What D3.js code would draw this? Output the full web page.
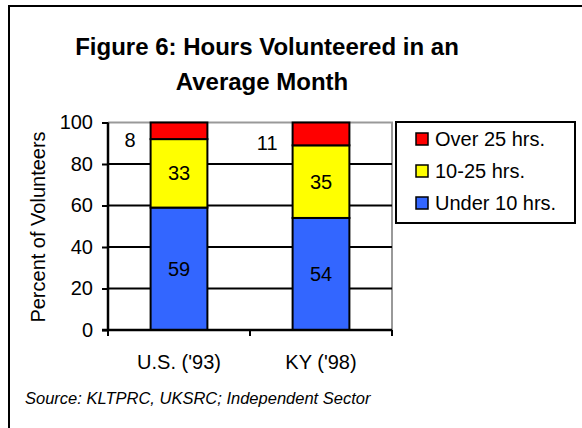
<!DOCTYPE html>
<html>
<head>
<meta charset="utf-8">
<script src="https://cdn.jsdelivr.net/npm/d3@7"></script>
<style>
  body { margin: 0; background: #fff; }
  text { font-family: Arial, "Liberation Sans", sans-serif; }
</style>
</head>
<body>
<script>
// data
var categories = ["U.S. ('93)", "KY ('98)"];
var seriesNames = ["Under 10 hrs.", "10-25 hrs.", "Over 25 hrs."];
var under10 = [59, 54];
var mid10to25 = [33, 35];
var over25 = [8, 11];
var yTicks = [0, 20, 40, 60, 80, 100];
var colors = ["#3366ff", "#ffff00", "#ff0000"];

var width = 582;
var height = 428;

var rows = categories.map(function(c, i){
  return { cat: c, "Under 10 hrs.": under10[i], "10-25 hrs.": mid10to25[i], "Over 25 hrs.": over25[i] };
});

var svg = d3.select("body")
            .append("svg")
            .attr("width", width)
            .attr("height", height);

// outer frame (runs off the right / bottom edge like the original)
svg.append("rect")
   .attr("x", 9).attr("y", 6)
   .attr("width", 600).attr("height", 450)
   .attr("fill", "none")
   .attr("stroke", "#000")
   .attr("stroke-width", 2);

// title
svg.append("text")
   .attr("x", 267).attr("y", 55)
   .attr("text-anchor", "middle")
   .attr("font-size", 24).attr("font-weight", "bold")
   .text("Figure 6: Hours Volunteered in an");
svg.append("text")
   .attr("x", 262).attr("y", 90)
   .attr("text-anchor", "middle")
   .attr("font-size", 24).attr("font-weight", "bold")
   .text("Average Month");

var plotL = 108, plotR = 392, plotT = 122.5, plotB = 330;

var xScale = d3.scaleBand()
               .domain(categories)
               .range([plotL, plotR])
               .paddingInner(0.6)
               .paddingOuter(0.3);

var yScale = d3.scaleLinear()
               .domain([0, 100])
               .range([plotB, plotT]);

// plot area border (grey top + right)
svg.append("path")
   .attr("d", "M" + plotL + "," + plotT + "H" + plotR + "V" + plotB)
   .attr("fill", "none")
   .attr("stroke", "#999")
   .attr("stroke-width", 2);

// gridlines
svg.selectAll(".grid")
   .data(yTicks.filter(function(d){ return d > 0 && d < 100; }))
   .enter()
   .append("line")
   .attr("class", "grid")
   .attr("x1", plotL).attr("x2", plotR)
   .attr("y1", function(d){ return yScale(d); })
   .attr("y2", function(d){ return yScale(d); })
   .attr("stroke", "#000")
   .attr("stroke-width", 2);

var stack = d3.stack().keys(seriesNames);
var layers = stack(rows);

var groups = svg.selectAll(".layer")
   .data(layers)
   .enter()
   .append("g")
   .attr("class", "layer")
   .attr("fill", function(d, i){ return colors[i]; });

groups.selectAll("rect")
   .data(function(d){ return d; })
   .enter()
   .append("rect")
   .attr("x", function(d){ return xScale(d.data.cat); })
   .attr("width", xScale.bandwidth())
   .attr("y", function(d){ return yScale(d[1]); })
   .attr("height", function(d){ return yScale(d[0]) - yScale(d[1]); })
   .attr("stroke", "#000")
   .attr("stroke-width", 2);

// value labels: bottom two inside, top one to the left of the bar
groups.selectAll("text")
   .data(function(d, i){ return d.map(function(p){ p.layer = i; return p; }); })
   .enter()
   .append("text")
   .attr("font-size", 20)
   .attr("text-anchor", function(d){ return d.layer == 2 ? "end" : "middle"; })
   .attr("x", function(d){
     if (d.layer == 2) return xScale(d.data.cat) - 15;
     return xScale(d.data.cat) + xScale.bandwidth() / 2;
   })
   .attr("y", function(d){
     var mid = (yScale(d[0]) + yScale(d[1])) / 2;
     return d.layer == 2 ? mid + 16 : mid + 7;
   })
   .attr("fill", "#000")
   .text(function(d){ return d[1] - d[0]; });

// y axis
var yAxis = d3.axisLeft(yScale)
              .tickValues(yTicks)
              .tickSize(6)
              .tickPadding(9);

var gy = svg.append("g")
   .attr("transform", "translate(" + plotL + ",0)")
   .call(yAxis);
gy.select(".domain").attr("stroke-width", 2.5).attr("d", "M0," + plotB + "V" + plotT);
gy.selectAll(".tick line").attr("stroke-width", 2);
gy.selectAll(".tick text").attr("font-size", 20).attr("font-family", "Arial, 'Liberation Sans', sans-serif").attr("fill", "#000");

// x axis line with ticks between categories
svg.append("line")
   .attr("x1", plotL - 6).attr("x2", plotR)
   .attr("y1", plotB).attr("y2", plotB)
   .attr("stroke", "#000").attr("stroke-width", 2.5);

var bounds = [plotL, plotL + xScale.step(), plotR];
svg.selectAll(".xtick")
   .data(bounds)
   .enter()
   .append("line")
   .attr("class", "xtick")
   .attr("x1", function(d){ return d; }).attr("x2", function(d){ return d; })
   .attr("y1", plotB).attr("y2", plotB + 6)
   .attr("stroke", "#000").attr("stroke-width", 2);

svg.selectAll(".xlabel")
   .data(categories)
   .enter()
   .append("text")
   .attr("class", "xlabel")
   .attr("x", function(d){ return xScale(d) + xScale.bandwidth() / 2; })
   .attr("y", 369)
   .attr("text-anchor", "middle")
   .attr("font-size", 20)
   .text(function(d){ return d; });

// y axis title
svg.append("text")
   .attr("transform", "translate(45,227) rotate(-90)")
   .attr("text-anchor", "middle")
   .attr("font-size", 20)
   .text("Percent of Volunteers");

// legend
var legend = svg.append("g");
legend.append("rect")
   .attr("x", 396).attr("y", 122)
   .attr("width", 179).attr("height", 101)
   .attr("fill", "#fff")
   .attr("stroke", "#000")
   .attr("stroke-width", 2);

var legendOrder = [2, 1, 0];
var items = legend.selectAll(".item")
   .data(legendOrder)
   .enter()
   .append("g")
   .attr("transform", function(d, i){ return "translate(416," + (139 + i * 32) + ")"; });

items.append("rect")
   .attr("x", 0).attr("y", -6)
   .attr("width", 12).attr("height", 12)
   .attr("fill", function(d){ return colors[d]; })
   .attr("stroke", "#000")
   .attr("stroke-width", 1.5);

items.append("text")
   .attr("x", 19).attr("y", 7)
   .attr("font-size", 20)
   .text(function(d){ return seriesNames[d]; });

// source note
svg.append("text")
   .attr("x", 25).attr("y", 404)
   .attr("font-size", 16.5)
   .attr("font-style", "italic")
   .text("Source: KLTPRC, UKSRC; Independent Sector");
</script>
</body>
</html>
